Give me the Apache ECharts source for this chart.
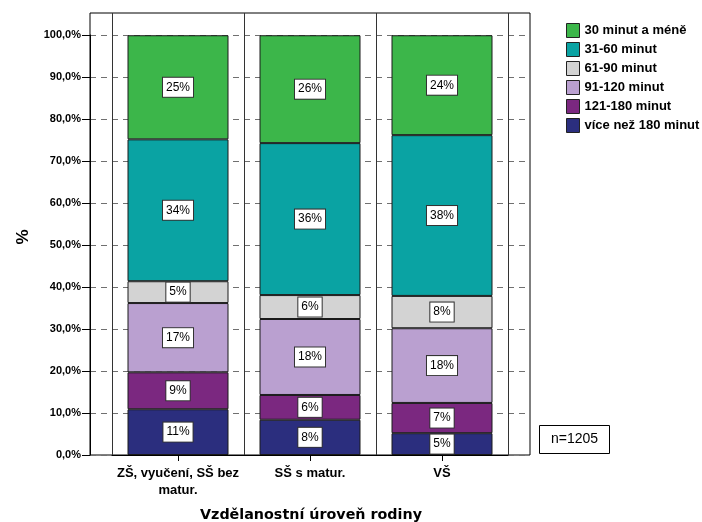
<!DOCTYPE html>
<html><head><meta charset="utf-8">
<script src="https://cdn.jsdelivr.net/npm/echarts@6/dist/echarts.min.js"></script>
<style>html,body{margin:0;padding:0;background:#fff}#c{width:702px;height:522px}</style>
</head><body><div id="c"></div>
<script>
const categories = ['ZŠ, vyučení, SŠ bez\nmatur.', 'SŠ s matur.', 'VŠ'];
const seriesNames = ['více než 180 minut', '121-180 minut', '91-120 minut', '61-90 minut', '31-60 minut', '30 minut a méně'];
const s180plus = [10.9, 8.4, 5.2];
const s121_180 = [8.8, 5.9, 7.2];
const s91_120 = [16.5, 18.1, 17.8];
const s61_90 = [5.2, 5.7, 7.7];
const s31_60 = [33.8, 36.2, 38.3];
const s30less = [24.8, 25.7, 23.8];
const colors = ['#2b2e7e', '#7b2880', '#baa0d0', '#d3d3d3', '#0aa3a3', '#3cb64a'];
const nLabel = 'n=1205';
const xTitle = 'Vzdělanostní úroveň rodiny';
const yTitle = '%';

const values = [s180plus, s121_180, s91_120, s61_90, s31_60, s30less];
const F = '"Liberation Sans", Arial, sans-serif';
const FD = '"DejaVu Sans", sans-serif';
const TOP = 13, BOTTOM = 67, YMAX = 105.3;

const chart = echarts.init(document.getElementById('c'), null, {renderer: 'canvas'});
chart.setOption({
  animation: false,
  backgroundColor: '#fff',
  textStyle: {fontFamily: F},
  grid: [
    {left: 90, right: 172, top: TOP, bottom: BOTTOM, show: true, borderColor: '#000', borderWidth: 1, backgroundColor: 'transparent', outerBoundsMode: 'none', containLabel: false},
    {left: 90, right: 172, top: 35, bottom: BOTTOM, outerBoundsMode: 'none', containLabel: false},
    {left: 112, right: 194, top: TOP, bottom: BOTTOM, outerBoundsMode: 'none', containLabel: false}
  ],
  xAxis: [
    {gridIndex: 0, type: 'value', show: false, min: 0, max: 1},
    {gridIndex: 1, type: 'value', show: false, min: 0, max: 1},
    {gridIndex: 2, type: 'category', data: categories,
     axisLine: {show: true, lineStyle: {color: '#000', width: 1}},
     axisTick: {show: true, alignWithLabel: true, length: 6, interval: 0, lineStyle: {color: '#000'}},
     splitLine: {show: true, interval: 0, lineStyle: {color: '#333', width: 1, type: 'solid'}},
     axisLabel: {interval: 0, fontFamily: F, fontWeight: 'bold', fontSize: 13, color: '#000', margin: 10, lineHeight: 17},
     name: xTitle, nameLocation: 'middle', nameGap: 53,
     nameTextStyle: {fontFamily: FD, fontWeight: 'bold', fontSize: 14.3, color: '#000', padding: [0, 0, 0, 2]}
    }
  ],
  yAxis: [
    {gridIndex: 0, type: 'value', show: false, min: 0, max: 1},
    {gridIndex: 1, type: 'value', min: 0, max: 100, interval: 10,
     axisLine: {show: true, lineStyle: {color: '#000'}},
     axisTick: {show: true, length: 8, lineStyle: {color: '#000'}},
     axisLabel: {fontFamily: F, fontWeight: 'bold', fontSize: 11, color: '#000', margin: 9,
       formatter: v => v.toFixed(1).replace('.', ',') + '%'},
     splitLine: {show: true, lineStyle: {color: '#707070', type: [6, 5], width: 1}},
     name: yTitle, nameLocation: 'middle', nameGap: 58, nameRotate: 90,
     nameTextStyle: {fontFamily: F, fontWeight: 'bold', fontSize: 17, color: '#000', padding: [0, 0, 0, 16]}
    },
    {gridIndex: 2, type: 'value', show: false, min: 0, max: YMAX}
  ],
  legend: {
    orient: 'vertical', left: 561, top: 18, itemWidth: 13, itemHeight: 14, itemGap: 4,
    icon: 'rect', data: seriesNames.slice().reverse(),
    textStyle: {fontFamily: F, fontWeight: 'bold', fontSize: 13, color: '#000'},
    itemStyle: {borderColor: '#222', borderWidth: 1}
  },
  title: {
    text: nLabel, left: 539, top: 425, padding: [7, 12, 8, 12],
    borderColor: '#000', borderWidth: 1,
    textStyle: {fontFamily: F, fontWeight: 'normal', fontSize: 14, color: '#000'}
  },
  series: seriesNames.map((name, i) => ({
    name, type: 'bar', stack: 'total', xAxisIndex: 2, yAxisIndex: 2,
    barWidth: 101, data: values[i], z: 3,
    itemStyle: {color: colors[i], borderColor: '#1a1a1a', borderWidth: 1},
    label: {show: true, position: 'inside', formatter: p => Math.round(p.value) + '%',
      fontFamily: F, fontSize: 12, color: '#000', backgroundColor: '#fff',
      borderColor: '#333', borderWidth: 1, padding: [4, 3, 3, 3]}
  }))
});
</script></body></html>
